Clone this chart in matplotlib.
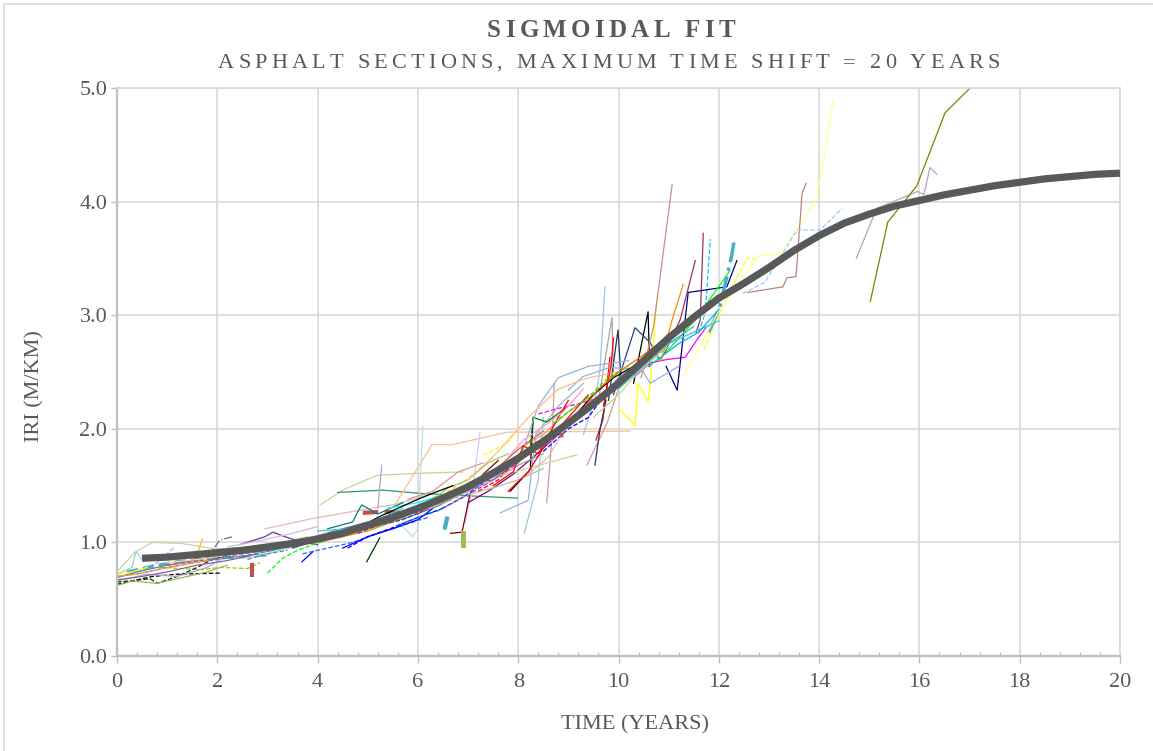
import matplotlib
matplotlib.use("Agg")
import matplotlib.pyplot as plt
from matplotlib.ticker import MultipleLocator, FormatStrFormatter
from matplotlib.lines import Line2D

plt.rcParams["font.family"] = ["Liberation Serif", "DejaVu Serif"]

TITLE = "SIGMOIDAL FIT"
SUBTITLE = "ASPHALT SECTIONS, MAXIMUM TIME SHIFT = 20 YEARS"
X_LABEL = "TIME (YEARS)"
Y_LABEL = "IRI (M/KM)"
X_TICKS = [0, 2, 4, 6, 8, 10, 12, 14, 16, 18, 20]
Y_TICKS = [0.0, 1.0, 2.0, 3.0, 4.0, 5.0]

# sigmoidal fit
fit_t = [0.5, 1.0, 1.5, 2.0, 2.5, 3.0, 3.5, 4.0, 4.5, 5.0, 5.5, 6.0, 6.5, 7.0,
         7.5, 8.0, 8.5, 9.0, 9.5, 10.0, 10.5, 11.0, 11.5, 12.0, 12.5, 13.0,
         13.5, 14.0, 14.5, 15.0, 15.5, 16.0, 16.5, 17.0, 17.5, 18.0, 18.5,
         19.0, 19.5, 20.0]
fit_iri = [0.86, 0.87, 0.89, 0.91, 0.93, 0.96, 0.99, 1.03, 1.08, 1.15, 1.22,
           1.30, 1.39, 1.49, 1.61, 1.74, 1.89, 2.05, 2.22, 2.40, 2.60, 2.80,
           2.98, 3.15, 3.28, 3.42, 3.57, 3.70, 3.81, 3.89, 3.96, 4.01, 4.06,
           4.10, 4.14, 4.17, 4.20, 4.22, 4.24, 4.25]

# individual sections, 0-4 years
early_t = [
    [0.0, 0.35, 0.7, 1.3, 2.0, 2.6, 3.2, 3.8],
    [0.0, 0.7, 1.2, 2.05],
    [0.85, 1.7, 2.05, 2.6, 2.85],
    [0.0, 0.66, 0.8, 1.2, 1.6, 1.85, 2.3],
    [0.4, 0.8, 1.0, 1.16],
    [1.62, 1.7],
    [0.2, 0.7, 1.2, 1.8, 2.4, 3.0],
    [1.5, 1.9, 2.05, 2.3],
    [0.0, 0.6, 1.2, 1.8, 2.1],
    [0.0, 0.3, 0.38, 0.5, 1.0, 1.5, 2.0],
    [0.0, 0.3, 0.6],
    [0.0, 0.4, 0.9, 1.5, 2.0],
    [0.0, 0.3, 0.8, 1.2, 1.8, 2.2],
    [2.95, 3.9, 4.8, 5.6, 6.2],
    [2.45, 2.95, 3.11, 3.35, 3.7, 4.0],
    [2.7, 2.7],
    [3.0, 3.3, 3.6, 3.9, 4.2],
    [2.5, 3.0, 3.5, 3.9],
    [3.69, 3.91],
    [2.8, 3.19, 3.7],
    [1.0, 1.5, 2.0, 2.5, 3.0, 3.5],
    [0.0, 0.5, 1.0, 1.5, 2.0, 2.5, 3.0],
    [0.0, 0.5, 1.0, 1.6, 2.2, 2.8],
    [0.0, 0.4, 0.8, 1.3, 1.8],
    [3.5, 4.0, 4.5, 5.0],
    [2.2, 2.9, 3.5, 4.0],
    [2.6, 3.0, 3.4],
    [3.0, 3.5, 4.0, 4.5, 5.0, 5.5],
    [1.0, 1.8, 2.6, 3.4, 4.2],
    [2.0, 2.5, 3.0, 3.4],
    [3.7, 4.2, 4.7, 5.2, 5.7, 6.2],
]
early_iri = [
    [0.74, 0.91, 1.00, 0.99, 0.94, 0.96, 0.99, 1.05],
    [0.63, 0.70, 0.72, 0.73],
    [0.78, 0.76, 0.78, 0.77, 0.82],
    [0.65, 0.68, 0.64, 0.70, 0.78, 0.84, 0.90],
    [0.74, 0.82, 0.90, 0.96],
    [0.92, 1.03],
    [0.74, 0.79, 0.83, 0.86, 0.87, 0.89],
    [0.84, 0.93, 1.02, 1.05],
    [0.66, 0.72, 0.70, 0.78, 0.86],
    [0.72, 0.78, 0.92, 0.85, 0.86, 0.89, 0.90],
    [0.72, 0.74, 0.78],
    [0.69, 0.74, 0.79, 0.84, 0.88],
    [0.62, 0.66, 0.64, 0.68, 0.74, 0.80],
    [1.12, 1.21, 1.28, 1.34, 1.42],
    [0.98, 1.05, 1.09, 1.05, 1.00, 0.98],
    [0.71, 0.80],
    [0.73, 0.86, 0.93, 0.98, 1.02],
    [0.86, 0.90, 0.96, 1.05],
    [0.83, 0.92],
    [0.91, 0.93, 1.00],
    [0.80, 0.83, 0.86, 0.90, 0.93, 0.98],
    [0.70, 0.73, 0.78, 0.82, 0.85, 0.88, 0.92],
    [0.67, 0.70, 0.74, 0.80, 0.84, 0.90],
    [0.70, 0.72, 0.76, 0.80, 0.84],
    [0.95, 1.02, 1.07, 1.13],
    [0.96, 1.02, 1.08, 1.14],
    [0.85, 0.90, 0.93],
    [0.92, 0.98, 1.06, 1.12, 1.18, 1.24],
    [0.82, 0.86, 0.93, 1.00, 1.08],
    [0.88, 0.92, 0.96, 1.00],
    [0.90, 0.95, 1.00, 1.08, 1.15, 1.22],
]
early_style = [
    ("#C3D69B", "-", 0.9), ("#000000", "--", 0.9), ("#99CC00", "--", 0.9),
    ("#003300", "--", 0.9), ("#CC99FF", "--", 0.9), ("#FFC000", "-", 0.9),
    ("#4BACC6", "--", 2.2), ("#8064A2", "-.", 0.9), ("#B3A2C7", "-", 0.9),
    ("#93CDDD", "-", 0.9), ("#FFFF00", "-", 0.9), ("#4F81BD", "-", 0.9),
    ("#9BBB59", "-", 0.9), ("#E6B9B8", "-", 0.9), ("#7030A0", "-", 0.9),
    ("#C0504D", "-", 3.0), ("#00FF00", "--", 0.9), ("#B9CDE5", "-", 0.9),
    ("#0000FF", "-", 0.9), ("#00FFFF", "--", 0.9), ("#C0504D", "--", 0.9),
    ("#4F81BD", "--", 0.9), ("#8064A2", "-", 0.9), ("#F79646", "-", 0.9),
    ("#1F497D", "-", 0.9), ("#CCC0DA", "-", 0.9), ("#808080", "--", 0.9),
    ("#666699", "-", 0.9), ("#FFCC99", "-", 0.9), ("#CC99FF", "-", 0.9),
    ("#3366FF", "--", 0.9),
]

# 4-8 years
mid_t = [
    [4.05, 4.5, 5.18, 6.1, 6.9],
    [4.4, 5.3, 6.1, 7.0, 7.98],
    [5.5, 5.68, 6.28, 6.68, 7.78, 10.23],
    [6.94, 7.1, 7.24],
    [5.55, 5.9, 6.0, 6.05, 6.1],
    [4.6, 5.0, 5.5, 6.0, 6.5],
    [6.65, 6.88, 7.04, 7.3, 7.6],
    [6.9, 6.9],
    [6.54, 6.58],
    [4.98, 5.24],
    [5.2, 5.6, 6.0, 6.4, 6.8],
    [4.9, 5.3, 5.7],
    [7.84, 8.24, 8.3],
    [7.3, 7.78, 8.0],
    [5.2, 5.28],
    [4.2, 4.7, 4.8, 4.88, 5.2, 5.7],
    [4.5, 5.0, 5.5, 6.0, 6.3],
    [4.0, 4.6, 5.2, 5.8, 6.4, 7.0, 7.6],
    [6.0, 6.5, 7.0, 7.5, 8.0, 8.5],
    [5.0, 5.5, 6.0, 6.5, 7.0],
    [6.5, 7.0, 7.5, 8.0],
    [5.4, 6.0, 6.5, 7.0],
    [7.0, 7.4, 7.9, 8.3, 8.8],
    [5.5, 6.0, 6.5, 7.0, 7.5, 8.0, 8.5],
    [6.0, 6.5, 7.0, 7.5],
    [4.0, 4.5, 5.0, 5.5, 6.0],
    [7.2, 7.6, 8.0, 8.4],
    [7.64, 8.2, 8.35, 8.8, 9.3],
    [8.12, 8.4, 8.5],
    [8.57, 8.68, 8.72],
    [7.58, 9.17],
    [7.0, 7.5, 8.0, 8.5],
    [5.6, 6.0, 6.4, 6.9, 7.3],
    [4.8, 5.2, 5.7, 6.1],
    [6.2, 6.6, 7.0, 7.4, 7.8],
    [4.8, 5.2, 5.6, 6.0, 6.4, 6.7],
    [4.0, 4.6, 5.2, 5.7],
    [5.8, 6.3, 6.8, 7.3],
]
mid_iri = [
    [1.33, 1.46, 1.59, 1.61, 1.62],
    [1.44, 1.46, 1.43, 1.41, 1.39],
    [1.30, 1.43, 1.86, 1.86, 1.97, 1.98],
    [1.17, 1.50, 1.97],
    [1.20, 1.05, 1.12, 1.60, 2.02],
    [0.95, 1.05, 1.13, 1.22, 1.30],
    [1.08, 1.09, 1.43, 1.60, 1.72],
    [0.98, 1.08],
    [1.13, 1.21],
    [0.83, 1.04],
    [1.18, 1.24, 1.28, 1.35, 1.40],
    [1.26, 1.27, 1.26],
    [1.45, 1.64, 2.10],
    [1.77, 1.87, 2.00],
    [1.30, 1.68],
    [1.12, 1.18, 1.27, 1.33, 1.25, 1.35],
    [0.95, 1.05, 1.12, 1.20, 1.30],
    [1.05, 1.08, 1.15, 1.22, 1.32, 1.46, 1.60],
    [1.25, 1.38, 1.52, 1.62, 1.82, 1.98],
    [1.10, 1.18, 1.28, 1.35, 1.45],
    [1.30, 1.42, 1.55, 1.70],
    [1.30, 1.35, 1.42, 1.48],
    [1.35, 1.45, 1.60, 1.75, 1.95],
    [1.20, 1.30, 1.35, 1.45, 1.55, 1.68, 1.78],
    [1.30, 1.42, 1.56, 1.75],
    [1.00, 1.05, 1.10, 1.20, 1.28],
    [1.45, 1.55, 1.75, 1.90],
    [1.26, 1.37, 1.95, 2.20, 2.40],
    [1.08, 1.55, 2.10],
    [1.35, 1.96, 2.40],
    [1.58, 1.77],
    [1.42, 1.48, 1.55, 1.65],
    [1.15, 1.22, 1.28, 1.40, 1.52],
    [1.08, 1.15, 1.20, 1.28],
    [1.35, 1.48, 1.55, 1.70, 1.78],
    [1.12, 1.22, 1.30, 1.38, 1.45, 1.50],
    [1.10, 1.12, 1.20, 1.30],
    [1.38, 1.45, 1.62, 1.70],
]
mid_style = [
    ("#C3D69B", "-", 0.9), ("#339966", "-", 0.9), ("#FAC090", "-", 0.9),
    ("#CCCCFF", "-", 0.9), ("#B7DEE8", "-", 0.9), ("#0000FF", "--", 0.9),
    ("#800000", "-", 0.9), ("#9BBB59", "-", 3.5), ("#4BACC6", "-", 3.0),
    ("#003300", "-", 0.9), ("#F79646", ":", 2.5), ("#C0504D", "--", 3.0),
    ("#000000", "-", 0.9), ("#FFFF00", "--", 0.9), ("#B3A2C7", "-", 0.9),
    ("#008080", "-", 0.9), ("#0000FF", "-", 0.9), ("#4F81BD", "-", 0.9),
    ("#C0504D", "-", 0.9), ("#9BBB59", "-", 0.9), ("#FF00FF", "--", 0.9),
    ("#00FFFF", "-", 0.9), ("#800080", "-", 0.9), ("#A6A6A6", "-", 0.9),
    ("#FFCC00", "--", 0.9), ("#FF9900", "-", 0.9), ("#FF0000", "--", 0.9),
    ("#95B3D7", "-", 0.9), ("#93CDDD", "-", 0.9), ("#D99694", "-", 0.9),
    ("#C3D69B", "-", 0.9), ("#C4BD97", "-", 0.9), ("#0070C0", "--", 0.9),
    ("#7030A0", "--", 0.9), ("#92D050", "-", 0.9), ("#000000", "-", 0.9),
    ("#33CCCC", "-", 0.9), ("#D99694", "-", 0.9),
]

# 8-13 years
late_t = [
    [9.3, 9.55, 9.63, 9.73],
    [9.6, 9.87, 9.9],
    [9.8, 9.99, 10.05],
    [10.3, 10.59, 10.62],
    [9.9, 10.33, 10.63, 10.8],
    [10.0, 10.33, 10.39, 10.59, 10.63, 10.77],
    [10.3, 10.63, 10.97, 11.33, 11.59, 11.76],
    [10.45, 10.7, 11.07],
    [11.55, 11.63, 11.69],
    [10.9, 11.23, 11.53],
    [11.6, 11.73, 11.83],
    [10.95, 11.17, 11.39, 12.16, 12.36],
    [10.8, 11.53, 12.22],
    [10.85, 11.07, 11.29],
    [11.7, 11.98, 12.36, 12.56, 12.78],
    [11.8, 12.02, 12.26, 12.3],
    [11.29, 11.98, 12.78, 13.22, 13.92, 14.06, 14.28],
    [12.58, 13.28, 13.36, 13.54, 13.66, 13.74],
    [12.48, 12.92, 13.56, 14.02, 14.46],
    [9.55, 9.69, 9.83],
    [9.0, 9.29, 9.83, 10.47, 10.63, 11.2],
    [9.37, 9.77, 10.0],
    [9.53, 9.63, 9.75],
    [8.0, 8.5, 9.0, 9.5, 10.0],
    [8.5, 9.0, 9.4, 9.8, 10.2],
    [7.8, 8.2, 8.6, 9.0, 9.4],
    [8.0, 8.24, 8.3, 8.57, 9.0],
    [8.4, 8.8, 9.2, 9.6],
    [9.0, 9.5, 10.0, 10.5, 11.0, 11.5],
    [8.8, 9.2, 9.5, 9.9, 10.3],
    [9.5, 10.0, 10.4, 10.8],
    [6.8, 7.4, 8.0, 8.4, 8.8, 9.4, 10.2],
    [7.0, 7.6, 8.2, 8.8, 9.4, 10.0],
    [8.2, 8.6, 9.0, 9.6],
    [10.0, 10.5, 11.0, 11.5, 12.0],
    [10.6, 10.9, 11.2, 11.6, 12.0],
    [7.0, 7.5, 8.0, 8.5, 9.0, 9.5],
    [9.7, 9.85, 9.9],
    [7.5, 7.9, 8.1, 8.4, 8.8, 9.0],
    [7.8, 8.1, 8.5, 8.9, 9.3],
    [8.7, 9.0, 9.4, 9.8, 10.2],
    [9.2, 9.5, 9.9, 10.3, 10.7],
    [8.9, 9.2, 9.6, 10.0, 10.4, 10.8],
    [8.6, 9.0],
    [9.8, 10.2, 10.6, 11.0],
]
late_iri = [
    [1.95, 2.30, 2.52, 3.25],
    [2.25, 2.98, 2.50],
    [2.25, 2.87, 2.45],
    [2.40, 3.03, 2.55],
    [2.30, 2.89, 2.76, 2.62],
    [2.18, 2.03, 2.40, 2.24, 2.40, 3.16],
    [2.45, 2.58, 2.61, 2.63, 2.80, 2.90],
    [2.45, 2.90, 4.15],
    [2.85, 2.96, 3.72],
    [2.65, 2.96, 3.48],
    [2.85, 3.02, 3.67],
    [2.55, 2.34, 3.20, 3.25, 3.48],
    [2.60, 2.96, 3.39],
    [2.60, 2.96, 3.27],
    [2.70, 2.98, 3.33, 3.50, 3.49],
    [2.85, 3.07, 3.53, 3.64],
    [2.46, 3.02, 3.52, 3.54, 4.00, 4.28, 4.89],
    [3.20, 3.25, 3.33, 3.34, 4.07, 4.16],
    [3.19, 3.29, 3.75, 3.75, 3.94],
    [1.90, 2.08, 2.63],
    [2.34, 2.46, 2.54, 2.52, 2.40, 2.55],
    [1.68, 2.05, 2.35],
    [1.68, 1.99, 2.25],
    [1.82, 1.95, 2.15, 2.30, 2.50],
    [1.80, 2.00, 2.10, 2.35, 2.45],
    [1.45, 1.62, 1.90, 2.10, 2.30],
    [1.70, 1.83, 2.10, 2.06, 2.20],
    [2.13, 2.18, 2.22, 2.27],
    [2.05, 2.20, 2.45, 2.60, 2.75, 2.90],
    [1.95, 2.15, 2.30, 2.45, 2.55],
    [2.10, 2.30, 2.50, 2.65],
    [1.45, 1.62, 1.70, 2.20, 2.45, 2.55, 2.60],
    [1.55, 1.80, 2.10, 2.35, 2.45, 2.50],
    [1.60, 1.75, 2.05, 2.25],
    [2.35, 2.55, 2.75, 2.85, 2.95],
    [2.55, 2.65, 2.75, 2.85, 3.05],
    [1.52, 1.55, 1.72, 1.85, 2.05, 2.20],
    [2.20, 2.55, 2.80],
    [1.50, 1.62, 1.85, 1.78, 2.10, 2.25],
    [1.75, 1.90, 2.02, 2.15, 2.35],
    [2.05, 2.15, 2.28, 2.45, 2.55],
    [2.15, 2.25, 2.38, 2.55, 2.70],
    [2.00, 2.12, 2.35, 2.50, 2.62, 2.75],
    [1.93, 1.95],
    [2.30, 2.45, 2.60, 2.72],
]
late_style = [
    ("#9DC3E6", "-", 0.9), ("#A6A6A6", "-", 0.9), ("#1F3864", "-", 0.9),
    ("#000000", "-", 0.9), ("#1F497D", "-", 0.9), ("#FFFF00", "-", 0.9),
    ("#FF00FF", "-", 0.9), ("#CD8C8B", "-", 0.9), ("#993366", "-", 0.9),
    ("#993366", "-", 0.9), ("#00CCFF", "--", 0.9), ("#000080", "-", 0.9),
    ("#00FF00", "-", 0.9), ("#FF8C00", "-", 0.9), ("#FFFF00", "--", 0.9),
    ("#4BACC6", "-.", 2.5), ("#FFFF99", "-", 0.9), ("#C0807F", "-", 0.9),
    ("#99CCFF", "--", 0.9), ("#FF0000", "-", 0.9), ("#95B3D7", "-", 0.9),
    ("#D99694", "-", 0.9), ("#1F3864", "-", 0.9), ("#F79646", "-", 0.9),
    ("#0000FF", "--", 0.9), ("#FF0000", "-", 0.9), ("#008000", "-", 0.9),
    ("#FF00FF", "--", 0.9), ("#4BACC6", "-", 0.9), ("#000000", "-", 0.9),
    ("#C3D69B", "-", 0.9), ("#95B3D7", "-", 0.9), ("#FAC090", "-", 0.9),
    ("#E6B9B8", "-", 0.9), ("#33CCCC", "-", 0.9), ("#00B0F0", "-", 0.9),
    ("#8064A2", "-", 0.9), ("#FF0000", "-", 0.9), ("#FF0000", "-", 0.9),
    ("#FF99CC", "-", 0.9), ("#00FF00", "--", 0.9), ("#993300", "-", 0.9),
    ("#FF6600", "-", 0.9), ("#C0504D", ":", 3.0), ("#9BBB59", "--", 0.9),
]

# the two long sections beyond 14 years
tail_t = [
    [14.74, 15.15, 15.97, 16.09, 16.21, 16.35],
    [15.02, 15.37, 15.95, 16.51, 17.01, 17.3],
]
tail_iri = [
    [3.50, 3.94, 4.09, 4.06, 4.30, 4.24],
    [3.12, 3.82, 4.14, 4.78, 5.00, 5.25],
]
tail_style = [("#B3A2C7", "-", 0.9), ("#808000", "-", 0.9)]

TEXT_GREY = "#595959"
W_PX, H_PX = 1153, 751


def spaced_text(fig, text, xc_px, base_px, width_px, **kw):
    # spread the letters so the line covers width_px, like the wide Excel title
    r = fig.canvas.get_renderer()

    def w(s):
        t = fig.text(0, 0, s, **kw)
        bb = t.get_window_extent(r)
        t.remove()
        return bb.width

    bar = w("||")
    widths = [w("|" + ch + "|") - bar for ch in text]
    gap = (width_px - sum(widths)) / (len(text) - 1)
    x = xc_px - width_px / 2
    for ch, cw in zip(text, widths):
        fig.text(x / W_PX, 1 - base_px / H_PX, ch, ha="left", va="baseline", **kw)
        x += cw + gap


fig = plt.figure(figsize=(W_PX / 100, H_PX / 100), dpi=100)
ax = fig.add_axes([117 / W_PX, 1 - 656 / H_PX, (1120 - 117) / W_PX, (656 - 88) / H_PX])

for group_t, group_iri, group_style in [(early_t, early_iri, early_style),
                                         (mid_t, mid_iri, mid_style),
                                         (late_t, late_iri, late_style),
                                         (tail_t, tail_iri, tail_style)]:
    for t, iri, (c, ls, lw) in zip(group_t, group_iri, group_style):
        ax.plot(t, iri, color=c, ls=ls, lw=lw)

ax.plot(fit_t, fit_iri, color="#595959", lw=5.2, solid_capstyle="butt", zorder=5)

ax.set_xlim(0, 20)
ax.set_ylim(0, 5)
ax.set_xticks(X_TICKS)
ax.set_yticks(Y_TICKS)
ax.yaxis.set_major_formatter(FormatStrFormatter("%.1f"))
ax.xaxis.set_minor_locator(MultipleLocator(0.4))
ax.grid(True, which="major", color="#D9D9D9", lw=1.2)
ax.set_axisbelow(True)

for side in ["top", "right"]:
    ax.spines[side].set_color("#D9D9D9")
    ax.spines[side].set_linewidth(1.2)
for side in ["left", "bottom"]:
    ax.spines[side].set_color("#BFBFBF")
    ax.spines[side].set_linewidth(1.6)

ax.tick_params(axis="x", which="major", direction="out", length=5, width=1,
               color="#BFBFBF", pad=7, labelsize=16, labelcolor=TEXT_GREY)
ax.tick_params(axis="x", which="minor", direction="in", length=3, width=1,
               color="#BFBFBF")
ax.tick_params(axis="y", which="major", direction="out", length=4, width=1,
               color="#BFBFBF", pad=3, labelsize=16, labelcolor=TEXT_GREY)

fig.text(35 / W_PX, 1 - 386 / H_PX, Y_LABEL, rotation=90, ha="center",
         va="center", fontsize=16, color=TEXT_GREY)
fig.text(635 / W_PX, 1 - 725 / H_PX, X_LABEL, ha="center", va="center",
         fontsize=16, color=TEXT_GREY)

fig.canvas.draw()
spaced_text(fig, TITLE, 611, 37, 248, fontsize=18, fontweight="bold", color=TEXT_GREY)
spaced_text(fig, SUBTITLE, 609, 68, 782, fontsize=16, color=TEXT_GREY)

# chart area border
fig.add_artist(Line2D([4 / W_PX, 4 / W_PX], [0, 1 - 4 / H_PX], color="#D9D9D9", lw=1.2))
fig.add_artist(Line2D([4 / W_PX, 1], [1 - 4 / H_PX, 1 - 4 / H_PX], color="#D9D9D9", lw=1.2))

fig.savefig("out.png", dpi=100)
